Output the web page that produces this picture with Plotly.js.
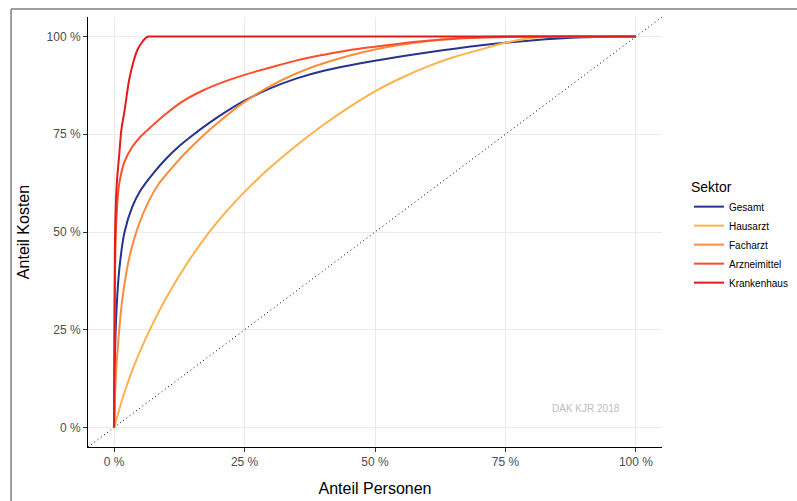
<!DOCTYPE html>
<html>
<head>
<meta charset="utf-8">
<script src="https://cdn.plot.ly/plotly-3.0.1.min.js"></script>
<style>
html,body{margin:0;padding:0;background:#fff;overflow:hidden;}
#chart{width:797px;height:501px;}
</style>
</head>
<body>
<div id="chart"></div>
<script>
// Sector names and colours
const sectors = ["Gesamt", "Hausarzt", "Facharzt", "Arzneimittel", "Krankenhaus"];
const colors = ["#27348B", "#FEB24C", "#FD8D3C", "#FC4E2A", "#E31A1C"];

// Lorenz-type concentration curves: share of persons (x) vs share of costs (y)
const gesamtX = [0, 0.002, 0.005, 0.01, 0.02, 0.035, 0.05, 0.075, 0.1, 0.125, 0.15, 0.2, 0.25, 0.3, 0.35, 0.4, 0.5, 0.6, 0.7, 0.8, 0.9, 1.0];
const gesamtY = [0, 0.2, 0.31, 0.405, 0.5, 0.565, 0.605, 0.65, 0.688, 0.72, 0.747, 0.795, 0.836, 0.868, 0.893, 0.912, 0.938, 0.959, 0.977, 0.99, 0.998, 1.0];

const hausarztX = [0, 0.02, 0.04, 0.07, 0.1, 0.14, 0.18, 0.22, 0.26, 0.3, 0.35, 0.4, 0.45, 0.5, 0.55, 0.6, 0.65, 0.7, 0.75, 0.8, 0.85, 1.0];
const hausarztY = [0, 0.09, 0.164, 0.254, 0.332, 0.42, 0.496, 0.56, 0.616, 0.666, 0.722, 0.773, 0.819, 0.86, 0.894, 0.923, 0.947, 0.966, 0.984, 0.996, 1.0, 1.0];

const facharztX = [0, 0.003, 0.008, 0.016, 0.03, 0.045, 0.065, 0.085, 0.105, 0.128, 0.15, 0.175, 0.2, 0.25, 0.3, 0.35, 0.4, 0.45, 0.5, 0.55, 0.6, 0.65, 0.7, 0.75, 0.85, 1.0];
const facharztY = [0, 0.12, 0.22, 0.33, 0.44, 0.51, 0.575, 0.622, 0.655, 0.69, 0.72, 0.752, 0.781, 0.833, 0.874, 0.906, 0.931, 0.951, 0.967, 0.979, 0.988, 0.995, 0.999, 1.0, 1.0, 1.0];

const arzneiX = [0, 0.001, 0.003, 0.006, 0.01, 0.02, 0.035, 0.05, 0.07, 0.1, 0.13, 0.17, 0.21, 0.25, 0.3, 0.35, 0.4, 0.45, 0.5, 0.55, 0.6, 0.65, 0.7, 0.75, 0.8, 0.9, 1.0];
const arzneiY = [0, 0.3, 0.48, 0.57, 0.625, 0.68, 0.718, 0.743, 0.768, 0.803, 0.833, 0.862, 0.884, 0.902, 0.921, 0.939, 0.953, 0.965, 0.974, 0.982, 0.989, 0.994, 0.997, 0.999, 1.0, 1.0, 1.0];

const krankenX = [0, 0.001, 0.002, 0.005, 0.01, 0.014, 0.02, 0.029, 0.037, 0.045, 0.055, 0.061, 0.066, 0.08, 0.2, 1.0];
const krankenY = [0, 0.3, 0.5, 0.62, 0.7, 0.762, 0.81, 0.89, 0.935, 0.967, 0.988, 0.997, 1.0, 1.0, 1.0, 1.0];

// Equality (diagonal) reference line
const diagonalX = [-0.05, 1.05];
const diagonalY = [-0.05, 1.05];

// Tick labels
const tickVals = [0, 0.25, 0.5, 0.75, 1];
const tickText = ["0 %", "25 %", "50 %", "75 %", "100 %"];

const seriesX = [gesamtX, hausarztX, facharztX, arzneiX, krankenX];
const seriesY = [gesamtY, hausarztY, facharztY, arzneiY, krankenY];

const traces = [{
  x: diagonalX, y: diagonalY, mode: "lines", showlegend: false, hoverinfo: "skip",
  line: {color: "#000000", width: 1, dash: "1px,3px"}
}];
for (let i = 0; i < sectors.length; i++) {
  traces.push({
    x: seriesX[i], y: seriesY[i], name: sectors[i], mode: "lines",
    line: {color: colors[i], width: 2, shape: "spline", smoothing: 1}
  });
}

const axisCommon = {
  range: [-0.05, 1.05], tickvals: tickVals, ticktext: tickText,
  showgrid: true, gridcolor: "#EBEBEB", gridwidth: 1, zeroline: false,
  showline: true, linecolor: "#000000", linewidth: 1,
  ticks: "outside", ticklen: 4, tickcolor: "#333333", tickwidth: 1,
  tickfont: {family: "Liberation Sans, Arial, sans-serif", size: 12, color: "#4D4D4D"},
  fixedrange: true
};

const layout = {
  width: 797, height: 501,
  margin: {l: 88, r: 135, t: 17, b: 54, autoexpand: false},
  paper_bgcolor: "#FFFFFF", plot_bgcolor: "#FFFFFF",
  font: {family: "Liberation Sans, Arial, sans-serif"},
  xaxis: Object.assign({}, axisCommon, {
    title: {text: "Anteil Personen", font: {size: 16, color: "#000000"}, standoff: 14}
  }),
  yaxis: Object.assign({}, axisCommon, {
    title: {text: "Anteil Kosten", font: {size: 16, color: "#000000"}, standoff: 12}
  }),
  showlegend: true,
  legend: {
    x: 1.047, xanchor: "left", y: 0.635, yanchor: "top",
    title: {text: "Sektor", font: {size: 14, color: "#000000"}},
    font: {size: 10, color: "#000000"},
    itemwidth: 30, tracegroupgap: 0, bgcolor: "rgba(0,0,0,0)"
  },
  annotations: [{
    x: 0.904, y: 0.049, xref: "x", yref: "y", text: "DAK KJR 2018", showarrow: false,
    font: {size: 10, color: "#BDBDBD"}
  }],
  shapes: [
    {type: "line", xref: "paper", yref: "paper", x0: -0.134, x1: 1.4, y0: 1.0186, y1: 1.0186,
     line: {color: "#808080", width: 1.5}},
    {type: "line", xref: "paper", yref: "paper", x0: -0.134, x1: -0.134, y0: -0.2, y1: 1.0186,
     line: {color: "#808080", width: 1.5}}
  ]
};

Plotly.newPlot("chart", traces, layout, {displayModeBar: false, staticPlot: true});
</script>
</body>
</html>
